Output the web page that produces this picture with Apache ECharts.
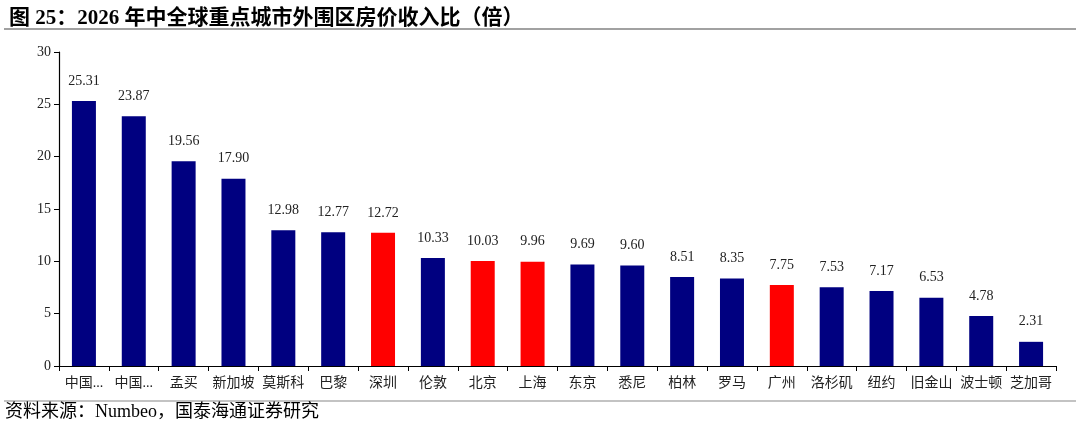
<!DOCTYPE html>
<html>
<head>
<meta charset="utf-8">
<script src="https://cdn.jsdelivr.net/npm/echarts@6/dist/echarts.min.js"></script>
<style>
  html, body { margin: 0; padding: 0; background: #fff; }
  #main { width: 1080px; height: 425px; }
</style>
</head>
<body>
<div id="main"></div>
<script>
// 城市与房价收入比
const cities = ['中国...', '中国...', '孟买', '新加坡', '莫斯科', '巴黎', '深圳', '伦敦', '北京', '上海',
  '东京', '悉尼', '柏林', '罗马', '广州', '洛杉矶', '纽约', '旧金山', '波士顿', '芝加哥'];
const ratios = [25.31, 23.87, 19.56, 17.90, 12.98, 12.77, 12.72, 10.33, 10.03, 9.96,
  9.69, 9.60, 8.51, 8.35, 7.75, 7.53, 7.17, 6.53, 4.78, 2.31];
// 国内城市标红
const domestic = ['深圳', '北京', '上海', '广州'];
const yTicks = [0, 5, 10, 15, 20, 25, 30];

const FONT = '"Liberation Serif", "Times New Roman", "Noto Sans CJK SC", serif';
const NAVY = '#000080';
const RED = '#ff0000';

const chart = echarts.init(document.getElementById('main'));

chart.setOption({
  animation: false,
  backgroundColor: '#fff',
  textStyle: { fontFamily: FONT },
  title: {
    text: '图 25：2026 年中全球重点城市外围区房价收入比（倍）',
    left: 4,
    top: 3,
    textStyle: { fontFamily: FONT, fontSize: 21, fontWeight: 'bold', color: '#000' }
  },
  graphic: [
    // 标题下横线
    { type: 'line', shape: { x1: 4, y1: 29, x2: 1076, y2: 29 }, style: { stroke: '#444', lineWidth: 1.2 } },
    // 来源上横线
    { type: 'line', shape: { x1: 4, y1: 401, x2: 1076, y2: 401 }, style: { stroke: '#888', lineWidth: 1.2 } },
    {
      type: 'text', left: 5, top: 403,
      style: { text: '资料来源：Numbeo，国泰海通证券研究', font: '18px ' + FONT, fill: '#000' }
    }
  ],
  grid: { left: 59, right: 24, top: 52, bottom: 59, containLabel: false },
  xAxis: {
    type: 'category',
    data: cities,
    boundaryGap: true,
    axisLine: { lineStyle: { color: '#000', width: 1.2 } },
    axisTick: { show: true, length: 5, lineStyle: { color: '#000' } },
    axisLabel: { interval: 0, color: '#222', fontSize: 14, margin: 10, fontFamily: FONT }
  },
  yAxis: {
    type: 'value',
    min: yTicks[0],
    max: yTicks[yTicks.length - 1],
    interval: 5,
    splitLine: { show: false },
    axisLine: { show: true, lineStyle: { color: '#000', width: 1.2 } },
    axisTick: { show: true, length: 5, lineStyle: { color: '#000' } },
    axisLabel: { color: '#222', fontSize: 14, margin: 8, fontFamily: FONT }
  },
  series: [{
    type: 'bar',
    barWidth: 24,
    data: ratios.map((v, i) => ({
      value: v,
      itemStyle: { color: domestic.includes(cities[i]) ? RED : NAVY }
    })),
    label: {
      show: true,
      position: 'top',
      distance: 13,
      color: '#222',
      fontSize: 14,
      fontFamily: FONT,
      formatter: p => p.value.toFixed(2)
    }
  }]
});
</script>
</body>
</html>
